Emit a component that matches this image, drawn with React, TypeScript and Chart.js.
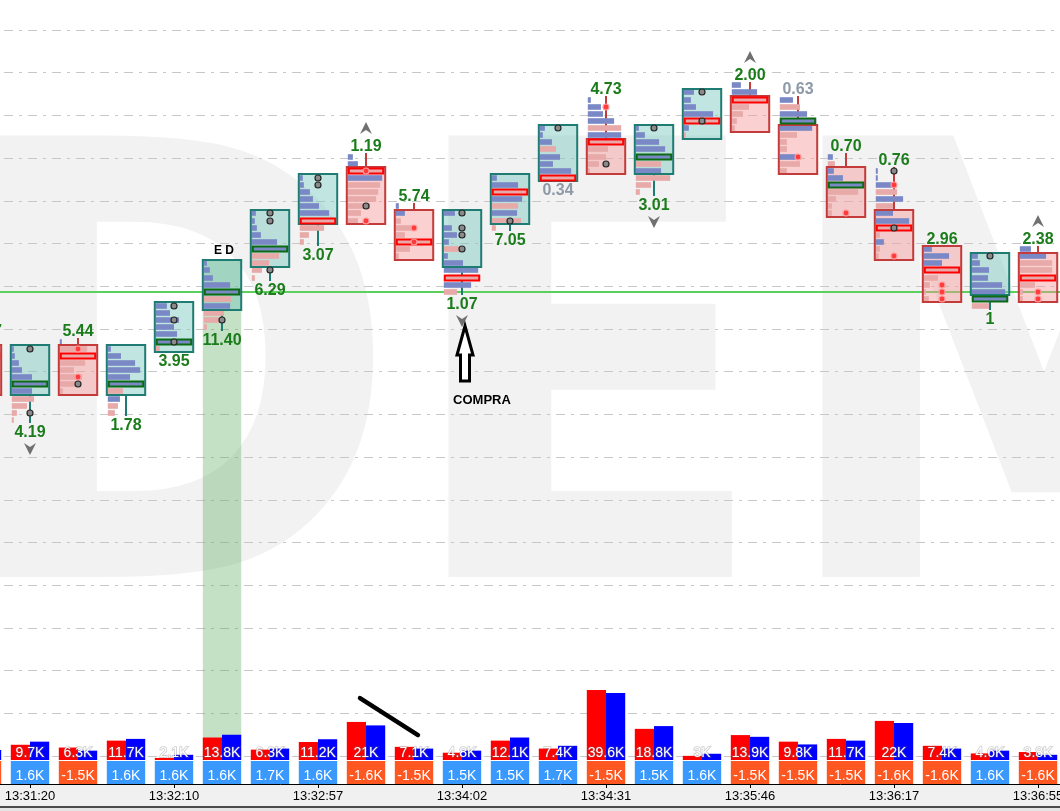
import React, { useEffect, useRef } from 'react';
import { Chart, registerables } from 'chart.js';

Chart.register(...registerables);

// ---------------- data ----------------
// candle index (-1 is the bar cut by the left edge)
const CANDLES = [-1, 0, 1, 2, 3, 4, 5, 6, 7, 8, 9, 10, 11, 12, 13, 14, 15, 16, 17, 18, 19, 20, 21];
// prices expressed in ticks (one footprint row = one tick)
const OPEN = [46, 40, 46, 40, 46, 52, 58, 64, 71, 65, 58, 64, 70, 75, 71, 76, 81, 77, 71, 65, 60, 54, 59];
const CLOSE = [40, 46, 40, 46, 52, 58, 65, 70, 64, 59, 65, 70, 77, 71, 77, 82, 77, 71, 65, 59, 53, 59, 53];
const HIGH = [47, 46, 47, 46, 52, 58, 65, 70, 73, 66, 65, 70, 77, 81, 77, 82, 83, 81, 73, 71, 60, 59, 60];
const LOW = [40, 36, 40, 37, 46, 49, 56, 61, 64, 59, 54, 63, 70, 71, 68, 76, 77, 71, 65, 59, 53, 52, 53];

// footprint rows from HIGH down to LOW (positive = buy dominated, negative = sell dominated)
const PROFILE: number[][] = [
  [3, -25, -36, -22, -15, -12, -8, -4],
  [2, 3, 7, 10, 20, 36, 20, -22, -15, -5, -2],
  [2, -27, -36, -25, -14, -22, -15, -3],
  [3, 13, 27, 32, 22, 36, -15, 12, -10, -7],
  [11, 14, 23, 18, 21, 36, -4],
  [3, 6, 9, 26, 36, -27, 26, -20, -15, -3],
  [4, 3, 5, 9, 25, 36, -27, -17, -10, -3],
  [3, 4, 10, 13, 19, 29, -36, -24, -9, -4],
  [5, 10, -36, 34, -32, -30, -28, -22, -13, -10],
  [3, 9, -5, -20, -9, -36, -14, -3],
  [11, 0, 8, 13, 5, -17, 4, 19, 34, -36, 27, -13],
  [5, 26, -36, 30, -26, 25, -29, -4],
  [5, 3, 12, -16, 20, 13, 31, -36],
  [3, 13, 15, 26, -33, 33, -36, -20, -18, -11, -2],
  [3, 9, 23, 29, 36, -25, 25, -34, -15, -4],
  [10, 7, 12, 29, -36, 5, -2],
  [9, 25, -36, -17, -11, -5, -3],
  [13, -20, 27, 36, 32, -17, -7, -7, 17, -20, -7],
  [5, -7, 6, 15, 36, -30, -8, -4, -4],
  [2, 2, 18, -21, 27, -17, 17, 33, -36, -4, 8, -4, -3],
  [8, 25, 18, -36, -14, -6, -2, -5],
  [6, 8, 17, 16, 30, 33, 36, -17],
  [11, 26, -32, -32, -36, -15, -3, -3],
];

// big-trade markers: [candle, price, kind]  g = neutral, r = red
const TRADE_MARKS: [number, number, string][] = [
  [0, 46, 'g'], [0, 37, 'g'], [1, 46, 'r'], [1, 42, 'r'], [1, 41, 'g'],
  [3, 52, 'g'], [3, 50, 'g'], [3, 47, 'g'], [4, 50, 'g'], [5, 65, 'g'], [5, 64, 'g'], [5, 57, 'g'],
  [6, 70, 'g'], [6, 69, 'g'], [7, 71, 'r'], [7, 66, 'g'], [7, 64, 'r'], [8, 63, 'r'], [8, 61, 'r'],
  [9, 65, 'g'], [9, 63, 'g'], [9, 62, 'g'], [9, 60, 'g'], [10, 64, 'g'], [11, 77, 'g'],
  [12, 80, 'r'], [12, 72, 'g'], [13, 77, 'g'], [14, 82, 'g'], [14, 78, 'g'], [16, 73, 'r'],
  [17, 65, 'r'], [18, 71, 'g'], [18, 69, 'r'], [18, 63, 'g'], [18, 59, 'r'],
  [19, 55, 'r'], [19, 54, 'r'], [19, 53, 'r'], [20, 59, 'g'], [21, 54, 'r'], [21, 53, 'r'],
];

const CANDLE_LABELS = ['10.17', '4.19', '5.44', '1.78', '3.95', '11.40', '6.29', '3.07', '1.19', '5.74', '1.07',
  '7.05', '0.34', '4.73', '3.01', '', '2.00', '0.63', '0.70', '0.76', '2.96', '1', '2.38'];
const MUTED_LABEL_CANDLES = [11, 16];
const UP_MARK_CANDLES = [7, 15, 21];
const DOWN_MARK_CANDLES = [0, 9, 13];

// volume (K) split into sell / buy, and delta (K)
const SELL_VOL = [3.4, 4.4, 3.6, 5.6, 0.6, 6.5, 3.0, 5.2, 11.0, 3.8, 2.1, 5.6, 3.3, 20.2, 9.0, 1.2, 7.2, 5.3, 6.1, 11.3, 4.1, 1.9, 2.3];
const BUY_VOL = [2.9, 5.3, 2.7, 6.1, 1.5, 7.3, 3.3, 6.0, 10.0, 3.3, 2.7, 6.5, 4.1, 19.4, 9.8, 1.8, 6.7, 4.5, 5.6, 10.7, 3.3, 2.7, 1.5];
const DELTA = [-1.5, 1.6, -1.5, 1.6, 1.6, 1.6, 1.7, 1.6, -1.6, -1.5, 1.5, 1.5, 1.7, -1.5, 1.5, 1.6, -1.5, -1.5, -1.5, -1.6, -1.6, 1.6, -1.6];

const AXIS_TICKS = [0, 3, 6, 9, 12, 15, 18, 21];
const AXIS_LABELS = ['13:31:20', '13:32:10', '13:32:57', '13:34:02', '13:34:31', '13:35:46', '13:36:17', '13:36:55'];

const LEVEL_PRICE = 54;
const HIGHLIGHT_CANDLE = 4;
const NOTE_CANDLE = 4;
const NOTE_TEXT = 'E D';
const SIGNAL_CANDLE = 9;
const SIGNAL_TEXT = 'COMPRA';
const STROKE_FROM = [6.875, 17.9]; // [candle, volume]
const STROKE_TO = [8.083, 7.2];
const WATERMARK = 'DEM';

// ---------------- view ranges ----------------
const X_MIN = -0.625;
const X_MAX = 22.7083;
const PRICE_MIN = -15.164;
const PRICE_MAX = 94.995;
const GRID_FIRST = -11.19;
const GRID_STEP = 6;
const VOL_MIN = -6.936;
const VOL_MAX = 219.65;
const DELTA_ROW_MAX = 33.087;
const PROFILE_FULL = 36;

const TEAL = '#1f7c72';
const RED = '#c33b3b';
const BLUE_BAR = '#7a89c6';
const PINK_BAR = '#e8a9a9';

const fmtK = (v: number) => {
  const s = v.toFixed(1);
  return (s.endsWith('.0') ? s.slice(0, -2) : s) + 'K';
};
const fmtDelta = (v: number) => (v < 0 ? '-' : '') + Math.abs(v).toFixed(1) + 'K';

function chevron(ctx: CanvasRenderingContext2D, cx: number, cy: number, up: boolean) {
  const s = up ? 1 : -1;
  ctx.beginPath();
  ctx.moveTo(cx, cy - 6 * s);
  ctx.lineTo(cx + 6, cy + 6 * s);
  ctx.lineTo(cx, cy + 2 * s);
  ctx.lineTo(cx - 6, cy + 6 * s);
  ctx.closePath();
  ctx.fillStyle = '#707070';
  ctx.fill();
}

const footprintPlugin = {
  id: 'footprint',
  beforeDraw(chart: any) {
    const { ctx, width, height, chartArea } = chart;
    ctx.save();
    ctx.fillStyle = '#ffffff';
    ctx.fillRect(0, 0, width, height);
    // watermark
    ctx.fillStyle = '#f2f2f2';
    ctx.textBaseline = 'alphabetic';
    ctx.textAlign = 'left';
    ctx.font = 'bold 100px "DejaVu Sans"';
    const cap = ctx.measureText('E').actualBoundingBoxAscent || 72.9;
    const size = (442 / cap) * 100;
    ctx.font = `bold ${size}px "DejaVu Sans"`;
    const lefts = [-15, 441, 815];
    const widths = [390, 299, 0];
    let lastScale = 1;
    WATERMARK.split('').forEach((l, i) => {
      const m = ctx.measureText(l);
      const gw = m.actualBoundingBoxLeft + m.actualBoundingBoxRight;
      const sx = widths[i] ? widths[i] / gw : lastScale;
      lastScale = sx;
      ctx.save();
      ctx.translate(lefts[i], 577);
      ctx.scale(sx, 1);
      ctx.fillText(l, m.actualBoundingBoxLeft, 0);
      ctx.restore();
    });
    // time axis strip
    ctx.fillStyle = '#f0f0f0';
    ctx.fillRect(0, chartArea.bottom, width, height - chartArea.bottom);
    ctx.fillStyle = '#e4e4e4';
    ctx.fillRect(0, chartArea.bottom + 23, width, height - chartArea.bottom - 23);
    ctx.fillStyle = '#4a4a4a';
    ctx.fillRect(0, chartArea.bottom + 22, width, 2);
    ctx.restore();
  },
  beforeDatasetsDraw(chart: any) {
    const { ctx, chartArea } = chart;
    const ys = chart.scales.y;
    const yv = chart.scales.yv;
    const body = chart.getDatasetMeta(3);
    const k = CANDLES.indexOf(HIGHLIGHT_CANDLE);
    const el: any = body.data[k];
    ctx.save();
    const top = ys.getPixelForValue(Math.max(OPEN[k], CLOSE[k]) + 0.5);
    const bot = yv.getPixelForValue(0);
    ctx.fillStyle = 'rgba(90,170,90,0.35)';
    ctx.fillRect(el.x - el.width / 2, top, el.width, bot - top);
    const ly = ys.getPixelForValue(LEVEL_PRICE);
    ctx.strokeStyle = '#5ccf5c';
    ctx.lineWidth = 2;
    ctx.beginPath();
    ctx.moveTo(chartArea.left, ly);
    ctx.lineTo(chartArea.right, ly);
    ctx.stroke();
    ctx.restore();
  },
  afterDatasetsDraw(chart: any) {
    const { ctx, chartArea } = chart;
    const xs = chart.scales.x;
    const ys = chart.scales.y;
    const yv = chart.scales.yv;
    const body = chart.getDatasetMeta(3);
    const rowH = Math.abs(ys.getPixelForValue(1) - ys.getPixelForValue(0));
    ctx.save();
    CANDLES.forEach((c, k) => {
      const el: any = body.data[k];
      const cx = el.x;
      const w = el.width;
      const left = cx - w / 2;
      const top = Math.min(el.y, el.base);
      const bot = Math.max(el.y, el.base);
      const bull = CLOSE[k] >= OPEN[k];
      const edge = bull ? TEAL : RED;
      const yHi = ys.getPixelForValue(HIGH[k] + 0.5);
      const yLo = ys.getPixelForValue(LOW[k] - 0.5);
      ctx.strokeStyle = edge;
      ctx.lineWidth = 2;
      ctx.beginPath();
      if (yHi < top - 0.5) { ctx.moveTo(cx, top); ctx.lineTo(cx, yHi); }
      if (yLo > bot + 0.5) { ctx.moveTo(cx, bot); ctx.lineTo(cx, yLo); }
      ctx.stroke();
      const prof = PROFILE[k];
      let poc = 0;
      prof.forEach((v, j) => { if (Math.abs(v) > Math.abs(prof[poc])) poc = j; });
      prof.forEach((v, j) => {
        if (!v) return;
        const yc = ys.getPixelForValue(HIGH[k] - j);
        const len = (Math.abs(v) / PROFILE_FULL) * (w - 2);
        ctx.fillStyle = v > 0 ? BLUE_BAR : PINK_BAR;
        ctx.fillRect(left + 1, yc - rowH / 2 + 0.7, len, rowH - 1.4);
      });
      ctx.strokeStyle = edge;
      ctx.lineWidth = 2;
      ctx.strokeRect(left, top, w, bot - top);
      const py = ys.getPixelForValue(HIGH[k] - poc);
      ctx.strokeStyle = prof[poc] > 0 ? '#0b6a12' : '#ff0000';
      ctx.strokeRect(left + 2, py - rowH / 2 + 1, w - 4, rowH - 2);
    });
    // trade markers
    TRADE_MARKS.forEach(([c, p, kind]) => {
      const cx = xs.getPixelForValue(c);
      const cy = ys.getPixelForValue(p);
      ctx.beginPath();
      ctx.arc(cx, cy, 3, 0, Math.PI * 2);
      if (kind === 'r') {
        ctx.fillStyle = '#ff3b3b';
        ctx.strokeStyle = '#ff9c9c';
      } else {
        ctx.fillStyle = '#8a8a8a';
        ctx.strokeStyle = '#262626';
      }
      ctx.lineWidth = 1.2;
      ctx.fill();
      ctx.stroke();
    });
    // labels + chevrons
    ctx.textAlign = 'center';
    ctx.textBaseline = 'alphabetic';
    ctx.font = 'bold 16px "Liberation Sans"';
    CANDLES.forEach((c, k) => {
      const txt = CANDLE_LABELS[k];
      if (!txt) return;
      const bull = CLOSE[k] >= OPEN[k];
      const cx = xs.getPixelForValue(c);
      const base = bull ? ys.getPixelForValue(LOW[k] - 0.5) + 14 : ys.getPixelForValue(HIGH[k] + 0.5) - 2;
      ctx.fillStyle = MUTED_LABEL_CANDLES.includes(c) ? '#8d99a6' : '#1b7c1b';
      ctx.fillText(txt, cx, base);
      if (UP_MARK_CANDLES.includes(c)) chevron(ctx, cx, base - 23, true);
      if (DOWN_MARK_CANDLES.includes(c)) chevron(ctx, cx, base + 12, false);
    });
    // note above highlighted candle
    {
      const k = CANDLES.indexOf(NOTE_CANDLE);
      const cx = xs.getPixelForValue(NOTE_CANDLE);
      const top = ys.getPixelForValue(Math.max(OPEN[k], CLOSE[k]) + 0.5);
      ctx.font = 'bold 12px "Liberation Sans"';
      ctx.fillStyle = '#000';
      ctx.fillText(NOTE_TEXT, cx + 2, top - 6);
    }
    // buy signal arrow
    {
      const k = CANDLES.indexOf(SIGNAL_CANDLE);
      const cx = xs.getPixelForValue(SIGNAL_CANDLE);
      const base = ys.getPixelForValue(LOW[k] - 0.5) + 14;
      const tip = base + 17;
      const ax = cx + 3;
      ctx.beginPath();
      ctx.moveTo(ax, tip);
      ctx.lineTo(ax + 8, tip + 29);
      ctx.lineTo(ax + 4.5, tip + 29);
      ctx.lineTo(ax + 4.5, tip + 55);
      ctx.lineTo(ax - 4.5, tip + 55);
      ctx.lineTo(ax - 4.5, tip + 29);
      ctx.lineTo(ax - 8, tip + 29);
      ctx.closePath();
      ctx.fillStyle = '#fff';
      ctx.fill();
      ctx.strokeStyle = '#000';
      ctx.lineWidth = 3;
      ctx.lineJoin = 'miter';
      ctx.stroke();
      ctx.font = 'bold 13px "Liberation Sans"';
      ctx.fillStyle = '#000';
      ctx.fillText(SIGNAL_TEXT, cx + 20, tip + 78);
    }
    // hand drawn stroke in the volume pane
    ctx.beginPath();
    ctx.moveTo(xs.getPixelForValue(STROKE_FROM[0]), yv.getPixelForValue(STROKE_FROM[1]));
    ctx.lineTo(xs.getPixelForValue(STROKE_TO[0]), yv.getPixelForValue(STROKE_TO[1]));
    ctx.strokeStyle = '#000';
    ctx.lineWidth = 4.5;
    ctx.lineCap = 'round';
    ctx.stroke();
    // volume & delta labels
    ctx.font = '14px "Liberation Sans"';
    const vBase = yv.getPixelForValue(0) - 3;
    CANDLES.forEach((c, k) => {
      const cx = xs.getPixelForValue(c);
      const t = fmtK(SELL_VOL[k] + BUY_VOL[k]);
      ctx.lineWidth = 1.6;
      ctx.strokeStyle = 'rgba(110,110,110,0.35)';
      ctx.strokeText(t, cx, vBase);
      ctx.fillStyle = '#ffffff';
      ctx.fillText(t, cx, vBase);
      ctx.fillText(fmtDelta(DELTA[k]), cx, chartArea.bottom - 4);
    });
    ctx.restore();
  },
};

export default function App() {
  const ref = useRef<HTMLCanvasElement>(null);
  useEffect(() => {
    document.body.style.margin = '0';
    const canvas = ref.current as HTMLCanvasElement;
    const chart = new Chart(canvas, {
      type: 'bar',
      data: {
        datasets: [
          {
            label: 'Sell volume',
            data: CANDLES.map((c, k) => ({ x: c, y: SELL_VOL[k] })),
            yAxisID: 'yv',
            backgroundColor: '#ff0000',
            categoryPercentage: 0.8,
            barPercentage: 1,
          },
          {
            label: 'Buy volume',
            data: CANDLES.map((c, k) => ({ x: c, y: BUY_VOL[k] })),
            yAxisID: 'yv',
            backgroundColor: '#0000ff',
            categoryPercentage: 0.8,
            barPercentage: 1,
          },
          {
            label: 'Delta',
            data: CANDLES.map((c) => ({ x: c, y: [-1, 0] })),
            yAxisID: 'yd',
            grouped: false,
            backgroundColor: DELTA.map((d) => (d >= 0 ? '#3a99ff' : '#ff5722')),
            categoryPercentage: 0.8,
            barPercentage: 1,
          },
          {
            label: 'Body',
            data: CANDLES.map((c, k) => ({
              x: c,
              y: [Math.min(OPEN[k], CLOSE[k]) - 0.5, Math.max(OPEN[k], CLOSE[k]) + 0.5],
            })),
            yAxisID: 'y',
            grouped: false,
            backgroundColor: CANDLES.map((c, k) =>
              CLOSE[k] >= OPEN[k] ? 'rgba(118,200,188,0.45)' : 'rgba(244,150,150,0.45)'
            ),
            borderWidth: 0,
            categoryPercentage: 0.8,
            barPercentage: 1,
          },
        ] as any,
      },
      options: {
        animation: false,
        responsive: false,
        devicePixelRatio: 1,
        layout: { padding: 0 },
        plugins: { legend: { display: false }, tooltip: { enabled: false } },
        scales: {
          x: {
            type: 'linear',
            min: X_MIN,
            max: X_MAX,
            offset: false,
            grid: { display: true, drawOnChartArea: false, drawTicks: true, tickLength: 4, color: '#000', offset: false },
            border: { display: true, color: '#000', width: 1 },
            ticks: {
              autoSkip: false,
              maxRotation: 0,
              padding: 1,
              color: '#000',
              font: { family: 'Liberation Sans', size: 13 },
              callback: (_v: any, i: number) => AXIS_LABELS[i],
            },
            afterBuildTicks: (s: any) => {
              s.ticks = AXIS_TICKS.map((v) => ({ value: v }));
            },
            afterFit: (s: any) => {
              s.height = 27;
            },
          },
          y: {
            type: 'linear',
            min: PRICE_MIN,
            max: PRICE_MAX,
            alignToPixels: true,
            ticks: { display: false },
            grid: { color: '#c8c8c8', drawTicks: false, lineWidth: 1 },
            border: { display: false, dash: [9, 6, 3, 6], dashOffset: 20 },
            afterBuildTicks: (s: any) => {
              const t = [];
              for (let v = GRID_FIRST; v < PRICE_MAX; v += GRID_STEP) t.push({ value: v });
              s.ticks = t;
            },
            afterFit: (s: any) => {
              s.width = 0;
            },
          },
          yv: { type: 'linear', display: false, min: VOL_MIN, max: VOL_MAX },
          yd: { type: 'linear', display: false, min: -1, max: DELTA_ROW_MAX },
        },
      } as any,
      plugins: [footprintPlugin],
    });
    return () => chart.destroy();
  }, []);
  return (
    <div style={{ position: 'absolute', left: 0, top: 0, width: 1060, height: 811, overflow: 'hidden', background: '#fff' }}>
      <canvas ref={ref} width={1120} height={811} style={{ display: 'block', width: 1120, height: 811 }} />
    </div>
  );
}
